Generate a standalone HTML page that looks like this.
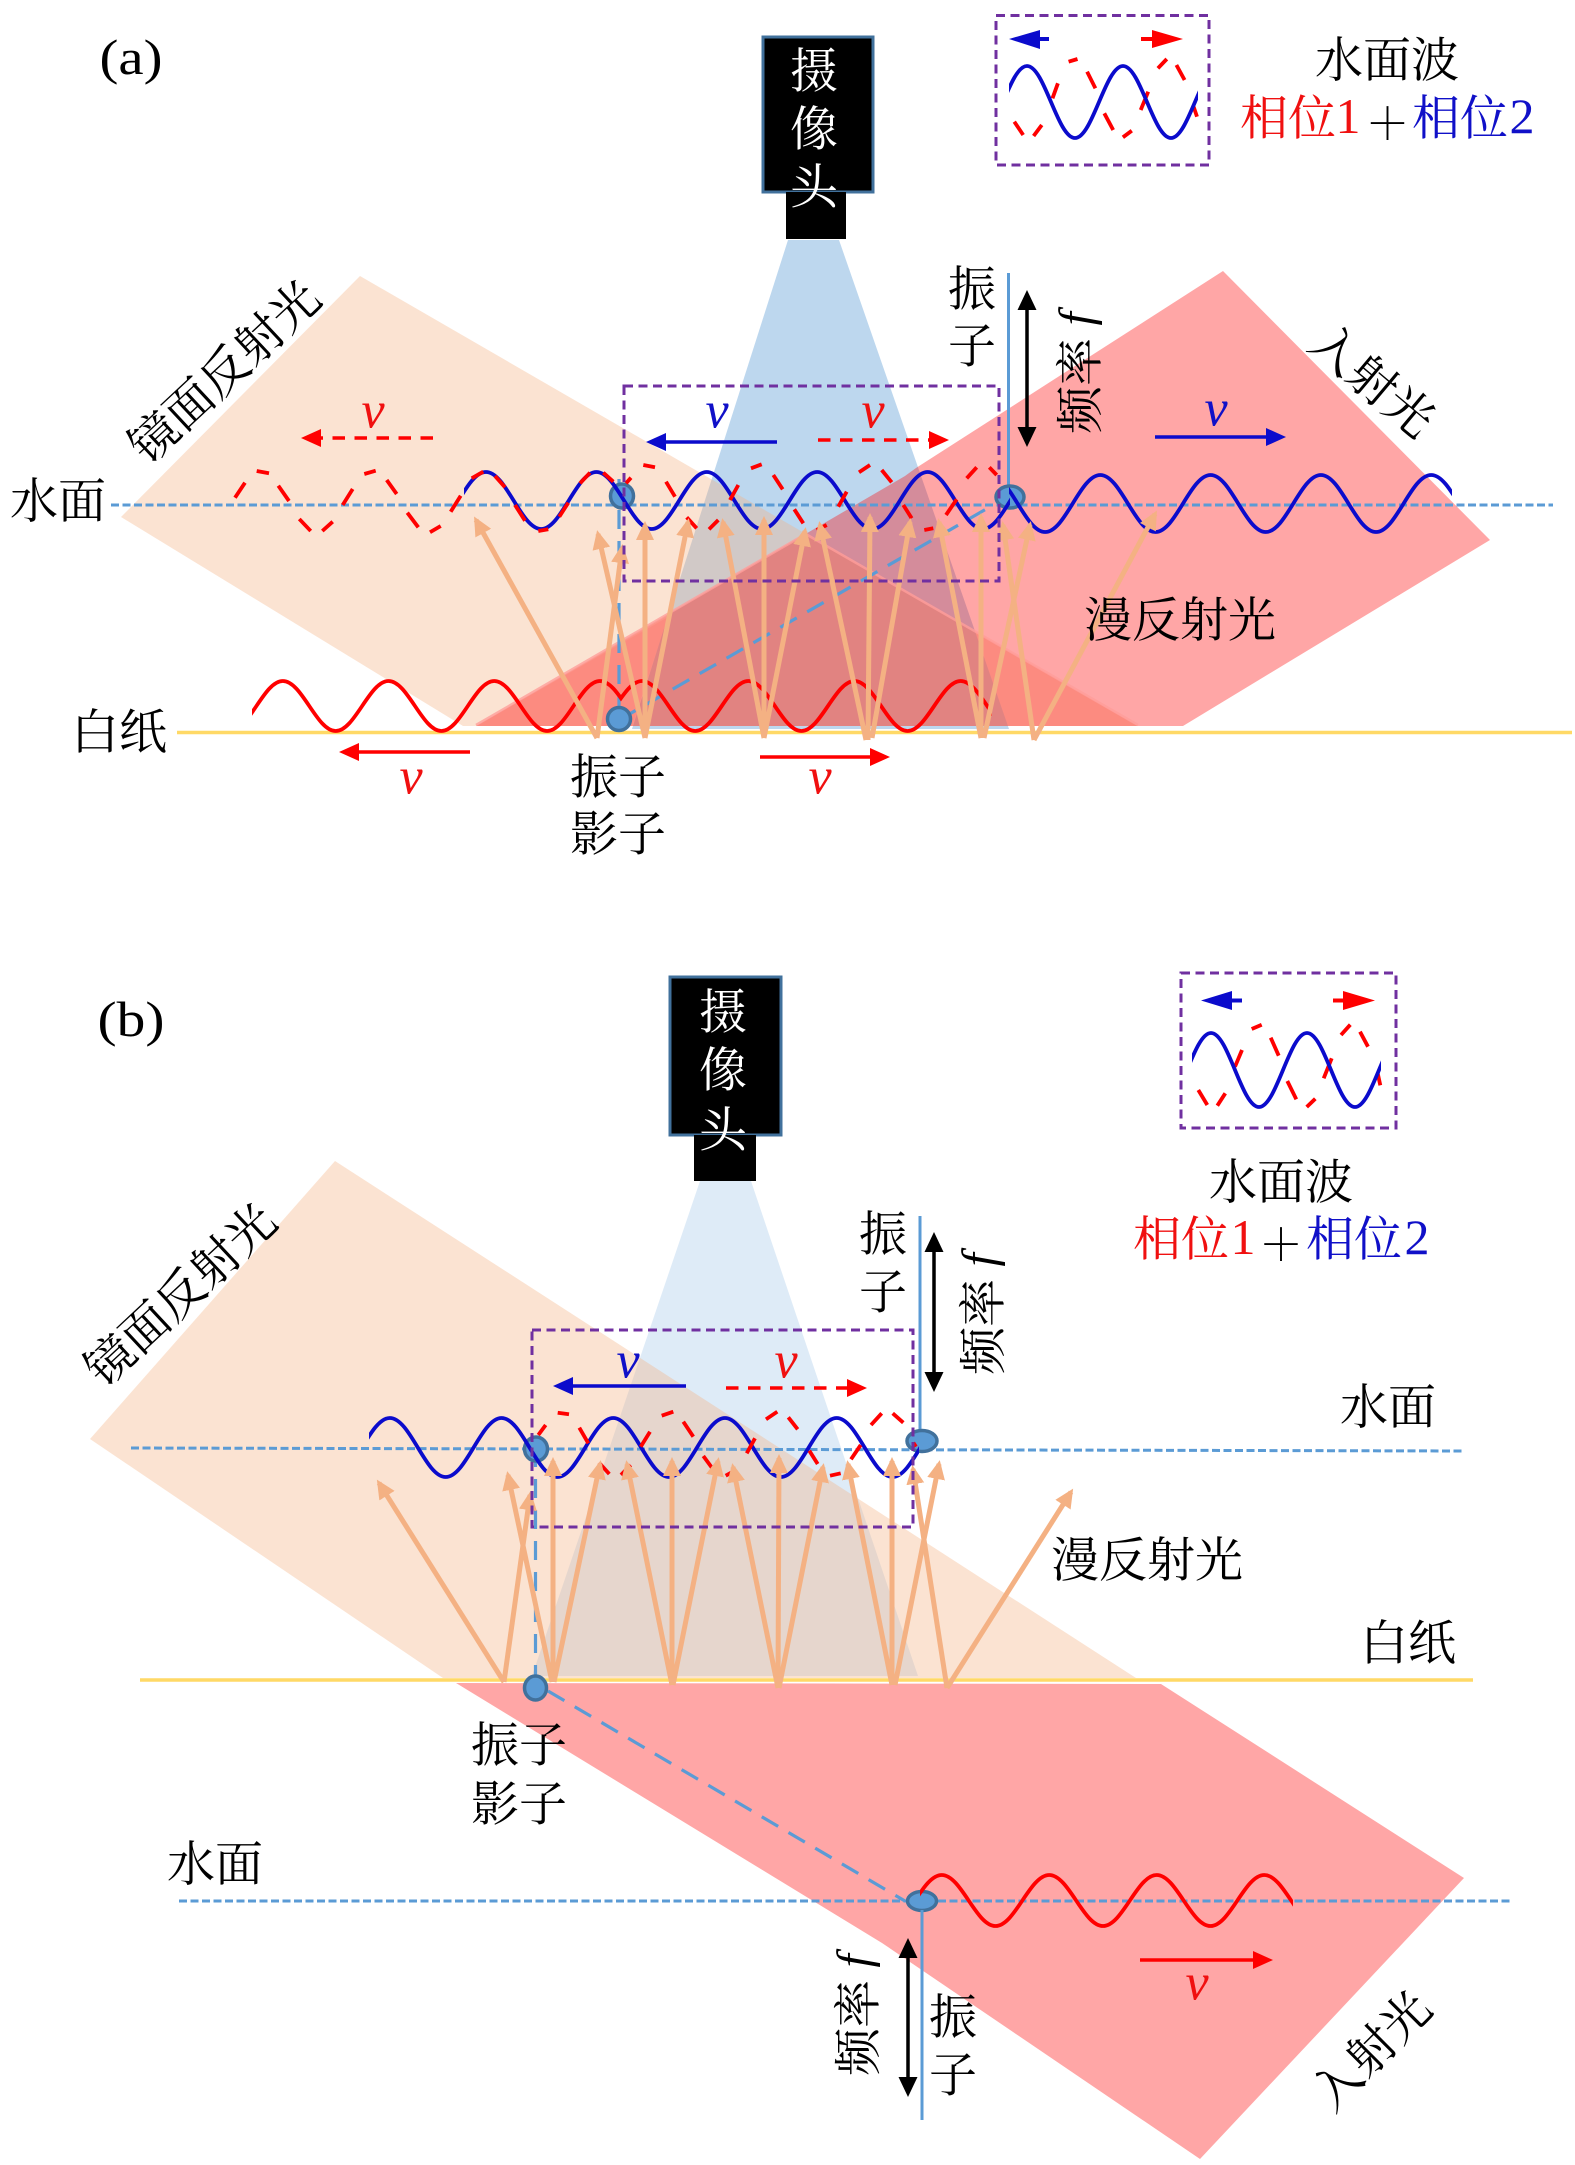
<!DOCTYPE html>
<html><head><meta charset="utf-8">
<style>
html,body{margin:0;padding:0;background:#fff}
svg{display:block}
text{font-family:"Noto Serif CJK SC","Liberation Serif",serif;font-size:48px;fill:#000;dominant-baseline:central;text-anchor:middle}
.lat{font-family:"Liberation Serif","Noto Serif CJK SC",serif}
.d{font-family:"Liberation Serif",serif;font-size:50px}
.v{font-family:"Liberation Serif",serif;font-style:italic;font-size:52px}
.w{fill:#fff}.r{fill:#f01010}.b{fill:#1010c8}
.pa{stroke:#F4B183;stroke-width:5;fill:none;marker-end:url(#mp)}
.wv{fill:none;stroke-width:3.8}
.rd{fill:none;stroke:#f00;stroke-width:3.8}
.dl{stroke:#5B9BD5;stroke-width:3.2;stroke-dasharray:19 12;fill:none}
.wl{stroke:#5B9BD5;stroke-width:3;stroke-dasharray:8 3.5;fill:none}
.pp{stroke:#FFD966;stroke-width:3.5}
.box{fill:none;stroke:#7030A0;stroke-width:3;stroke-dasharray:9 5.5}
.el{fill:#5B9BD5;stroke:#41719C;stroke-width:3.5}
</style></head><body>
<svg width="1575" height="2165" viewBox="0 0 1575 2165" xmlns="http://www.w3.org/2000/svg">
<defs>
<marker id="mp" markerUnits="userSpaceOnUse" markerWidth="20" markerHeight="20" refX="15" refY="9" orient="auto"><path d="M0 0L19 9L0 18z" fill="#F4B183"/></marker>
<marker id="mr" markerUnits="userSpaceOnUse" markerWidth="22" markerHeight="20" refX="15" refY="9" orient="auto"><path d="M0 0L20 9L0 18z" fill="#f00"/></marker>
<marker id="mb" markerUnits="userSpaceOnUse" markerWidth="22" markerHeight="20" refX="15" refY="9" orient="auto"><path d="M0 0L20 9L0 18z" fill="#0b0bcc"/></marker>
<marker id="mk" markerUnits="userSpaceOnUse" markerWidth="22" markerHeight="22" refX="15" refY="9.5" orient="auto"><path d="M0 0L20 9.5L0 19z" fill="#000"/></marker>
<marker id="mks" markerUnits="userSpaceOnUse" markerWidth="22" markerHeight="22" refX="5" refY="9.5" orient="auto"><path d="M20 0L0 9.5L20 19z" fill="#000"/></marker>
<clipPath id="c1"><rect x="464" y="440" width="546" height="120"/></clipPath>
<clipPath id="c2"><rect x="1009" y="440" width="443" height="120"/></clipPath>
<clipPath id="c5"><rect x="252" y="660" width="369" height="90"/></clipPath>
<clipPath id="c6"><rect x="621" y="660" width="371" height="90"/></clipPath>
<clipPath id="c7"><rect x="1009" y="50" width="189" height="100"/></clipPath>
<clipPath id="c8"><rect x="1192" y="1010" width="189" height="110"/></clipPath>
<clipPath id="c9"><rect x="369" y="1400" width="550" height="90"/></clipPath>
<clipPath id="c11"><rect x="920" y="1860" width="373" height="75"/></clipPath>
</defs>

<!-- PANEL A -->
<polygon points="788,240 839,240 1009,729 632,729" fill="#5B9BD5" opacity=".4"/>
<polygon points="360,276 1138,726 463,726 121,517" fill="#F4B183" opacity=".36"/>
<polygon points="1223,271 1490,540 1183,726 476,726 905,476 916,468" fill="#FF0000" opacity=".35"/>
<polygon points="476,726 668,617 632,726" fill="#FF0000" opacity=".06"/>
<polygon points="975,631 1138,726 1008,726" fill="#FF0000" opacity=".06"/>
<polyline points="476,725 805.7,534 1138,725" fill="none" stroke="#FF9E9A" stroke-width="2.5" opacity=".8"/>
<line x1="177" y1="732.5" x2="1572" y2="732.5" class="pp"/>
<line x1="111" y1="505" x2="1553" y2="505" class="wl"/>
<line x1="619" y1="479" x2="619" y2="720" class="dl"/>
<line x1="619" y1="720" x2="988" y2="508" class="dl"/>

<rect x="763" y="37" width="110" height="155" fill="#000" stroke="#41719C" stroke-width="3"/>
<rect x="786" y="192" width="60" height="47" fill="#000"/>
<text x="814" y="67" class="w">摄</text><text x="814" y="125" class="w">像</text><text x="814" y="183" class="w">头</text>

<line x1="1008.5" y1="273" x2="1008.5" y2="494" stroke="#5B9BD5" stroke-width="3"/>
<line x1="1027" y1="295" x2="1027" y2="442" stroke="#000" stroke-width="3.5" marker-end="url(#mk)" marker-start="url(#mks)"/>

<ellipse cx="622" cy="496" rx="11.5" ry="12" class="el"/>
<ellipse cx="1010" cy="497" rx="14" ry="11" class="el"/>
<ellipse cx="619" cy="719" rx="11.5" ry="11.5" class="el"/>

<!-- waves a -->
<path clip-path="url(#c1)" class="wv" stroke="#0b0bcc" d="M430.8 529c20.1 0 35.1-57 55.2-57s35.1 57 55.2 57s35.1-57 55.2-57s35.1 57 55.2 57s35.1-57 55.2-57s35.1 57 55.2 57s35.1-57 55.2-57s35.1 57 55.2 57s35.1-57 55.2-57s35.1 57 55.2 57s35.1-57 55.2-57"/>
<path clip-path="url(#c2)" class="wv" stroke="#0b0bcc" d="M990 475c20.1 0 35 57 55.15 57s35-57 55.15-57s35 57 55.15 57s35-57 55.15-57s35 57 55.15 57s35-57 55.15-57s35 57 55.15 57s35-57 55.15-57s35 57 55.15 57"/>
<path class="rd" d="M235 497.7L245 482.7M256.7 471L269 473.3M278.3 485.7L289 501M299.3 519L310.7 531M322.3 531L332.7 521.7M342.7 505L352.7 489M364.3 474L375.7 470.7M386.7 480L396.7 494M407.3 512.7L418.3 527.3M430 532.3L440.7 526M450.7 511.7L460.7 495.7M471.7 478.3L483.3 471.7M495 476L505 487.3M515 505L525 520.7M538.3 531L548.3 529.3M559.3 516.7L568.3 502.7M580 483.3L590 472.7M603.3 472.7L613.3 481.7"/>
<path class="rd" d="M626 483.3L631 477.7M643.3 465L655 467.3M666 481.7L675 496.7M686.7 517.3L696.7 528.3M709 529.3L718.3 520M730 500L738.3 485M751 468.3L761.7 464.3M773.3 475L782.7 489.3M794.3 509.3L803.3 523.3M816.7 530L826.7 525M838.3 506.7L846.7 491.7M859 472.3L870 465M881.7 470L891.7 482.3M903.3 505L911.7 518.3M924.3 530L933.3 528.3M946 515L956.7 499.3M966.7 478.3L976.7 467.3M989.3 467.3L996.7 475"/>
<path clip-path="url(#c5)" class="wv" stroke="#f00" d="M230 731c19.25 0 33.6-50 52.85-50s33.6 50 52.85 50s33.6-50 52.85-50s33.6 50 52.85 50s33.6-50 52.85-50s33.6 50 52.85 50s33.6-50 52.85-50s33.6 50 52.85 50"/>
<path clip-path="url(#c6)" class="wv" stroke="#f00" d="M589 731c19.3 0 33.8-50 53.1-50s33.8 50 53.1 50s33.8-50 53.1-50s33.8 50 53.1 50s33.8-50 53.1-50s33.8 50 53.1 50s33.8-50 53.1-50s33.8 50 53.1 50"/>

<!-- diffuse arrows a -->
<path class="pa" d="M597 738L476 520"/><path class="pa" d="M645 738L598 534"/><path class="pa" d="M597 738L622 548"/>
<path class="pa" d="M645 738L645 525"/><path class="pa" d="M645 738L688 522"/>
<path class="pa" d="M764 738L723 522"/><path class="pa" d="M764 738L764 520"/><path class="pa" d="M764 738L805 531"/>
<path class="pa" d="M866 740L820 525"/><path class="pa" d="M868 740L870 517"/><path class="pa" d="M872 738L910 522"/>
<path class="pa" d="M981 738L939 522"/><path class="pa" d="M981 738L981 517"/><path class="pa" d="M984 738L1030 525"/>
<path class="pa" d="M1034 740L1003 525"/><path class="pa" d="M1034 740L1155 514"/>

<rect x="624" y="386" width="375" height="195" class="box"/>

<!-- small arrows a -->
<line x1="433" y1="438" x2="306" y2="438" stroke="#f00" stroke-width="3.5" stroke-dasharray="12.5 9.5" marker-end="url(#mr)"/>
<line x1="777" y1="442" x2="651" y2="442" stroke="#0b0bcc" stroke-width="3.5" marker-end="url(#mb)"/>
<line x1="818" y1="440" x2="944" y2="440" stroke="#f00" stroke-width="3.5" stroke-dasharray="12.5 9.5" marker-end="url(#mr)"/>
<line x1="1155" y1="437" x2="1281" y2="437" stroke="#0b0bcc" stroke-width="3.5" marker-end="url(#mb)"/>
<line x1="470" y1="752" x2="344" y2="752" stroke="#f00" stroke-width="3.5" marker-end="url(#mr)"/>
<line x1="760" y1="757" x2="885" y2="757" stroke="#f00" stroke-width="3.5" marker-end="url(#mr)"/>
<text x="373" y="411" class="v r">v</text><text x="717" y="411" class="v b">v</text><text x="873" y="411" class="v r">v</text>
<text x="1216" y="409" class="v b">v</text><text x="411" y="777" class="v r">v</text><text x="820" y="777" class="v r">v</text>

<!-- labels a -->
<text x="131" y="57" class="lat" textLength="63" lengthAdjust="spacingAndGlyphs" style="font-size:50px">(a)</text>
<text x="58" y="497">水面</text>
<text x="119" y="728">白纸</text>
<text x="222" y="369" transform="rotate(-43 222 369)" style="font-size:48px">镜面反射光</text>
<text x="1375" y="378" transform="rotate(40 1375 378)" style="font-size:48px">入射光</text>
<text x="1076" y="373" transform="rotate(-90 1076 373)">频率 <tspan class="lat" font-style="italic">f</tspan></text>
<text x="972" y="285">振</text><text x="972" y="342">子</text>
<text x="618" y="773">振子</text><text x="618" y="830">影子</text>
<text x="1180" y="616">漫反射光</text>

<!-- legend a -->
<rect x="996" y="15.5" width="213" height="149.5" class="box"/>
<line x1="1049" y1="39" x2="1030" y2="39" stroke="#0b0bcc" stroke-width="4"/><polygon points="1009,39 1040,30 1040,49" fill="#0b0bcc"/>
<line x1="1141" y1="39" x2="1160" y2="39" stroke="#f00" stroke-width="4"/><polygon points="1183,39 1152,30 1152,48" fill="#f00"/>
<path class="rd" d="M1014.3 121.7L1023.2 135M1033.6 136L1041.8 125M1052.5 98.3L1057.9 83.3M1068.6 61.7L1077.5 59M1087.1 71.7L1095.4 88.3M1104.3 113.3L1113.2 130M1122.9 137.3L1131.8 130.7M1140.7 110L1148.2 91.7M1157.9 68.3L1166.8 59M1176.4 65L1184.6 80M1193.6 106.7L1197 116.7"/>
<path clip-path="url(#c7)" class="wv" stroke="#0b0bcc" d="M979 138c17.5 0 30.5-72 48-72s30.5 72 48 72s30.5-72 48-72s30.5 72 48 72s30.5-72 48-72"/>
<text x="1387" y="56">水面波</text>
<text x="1288" y="114" class="r">相位</text><text x="1348" y="116" class="d r">1</text>
<text x="1387.5" y="120" style="font-size:44px">＋</text>
<text x="1460" y="114" class="b">相位</text><text x="1522" y="116" class="d b">2</text>

<!-- PANEL B -->
<polygon points="700,1181 751,1181 918,1676 532,1676" fill="#5B9BD5" opacity=".2"/>
<polygon points="335,1161 1136,1678 443,1678 90,1439" fill="#F4B183" opacity=".36"/>
<polygon points="456,1683 1161,1684 1464,1878 1200,2159 882,1943" fill="#FF0000" opacity=".35"/>
<line x1="140" y1="1680" x2="1473" y2="1680" class="pp"/>
<line x1="131" y1="1448" x2="1463" y2="1451" class="wl"/>
<line x1="179" y1="1901" x2="1512" y2="1901" class="wl"/>
<line x1="535.5" y1="1448" x2="535.5" y2="1688" class="dl"/>
<line x1="548" y1="1691" x2="905" y2="1901" class="dl"/>

<rect x="670" y="977" width="111" height="158" fill="#000" stroke="#41719C" stroke-width="3"/>
<rect x="694" y="1135" width="62" height="46" fill="#000"/>
<text x="723" y="1008" class="w">摄</text><text x="723" y="1066" class="w">像</text><text x="723" y="1126" class="w">头</text>

<line x1="920" y1="1216" x2="920" y2="1441" stroke="#5B9BD5" stroke-width="3"/>
<line x1="934" y1="1237" x2="934" y2="1387" stroke="#000" stroke-width="3.5" marker-end="url(#mk)" marker-start="url(#mks)"/>

<ellipse cx="536" cy="1449" rx="11.5" ry="12" class="el"/>
<ellipse cx="922" cy="1441" rx="15" ry="10.5" class="el"/>
<ellipse cx="535.5" cy="1688" rx="11" ry="12" class="el"/>
<ellipse cx="922" cy="1901" rx="14.5" ry="9.5" class="el"/>

<path clip-path="url(#c9)" class="wv" stroke="#0b0bcc" d="M334 1477c20.3 0 35.5-59 55.85-59s35.5 59 55.85 59s35.5-59 55.85-59s35.5 59 55.85 59s35.5-59 55.85-59s35.5 59 55.85 59s35.5-59 55.85-59s35.5 59 55.85 59s35.5-59 55.85-59s35.5 59 55.85 59s35.5-59 55.85-59"/>
<path class="rd" d="M538.3 1435L545.7 1425M557.7 1412.7L569 1414.3M579.3 1427.7L588.3 1443.3M599 1462.7L609.3 1474M621 1475L630.7 1465M640.7 1446.7L650 1431.7M661.7 1415.7L673.3 1411.7M683.3 1421.7L693.3 1436.7M703.3 1456L712.3 1468.3M725.7 1475.7L736 1470M746.7 1453.3L755 1438.3M766 1419.3L777.3 1411.7M788.3 1417.3L797.7 1429.3M809.3 1450.7L817.7 1464M830 1475.7L840.7 1473.3M851 1459.3L860.7 1445M871 1425L881.7 1413.3M892.7 1413.3L903.3 1422.7M913.3 1442.7L916 1446.7"/>
<path clip-path="url(#c11)" class="wv" stroke="#f00" d="M888 1926c19.6 0 34.2-51 53.75-51s34.2 51 53.75 51s34.2-51 53.75-51s34.2 51 53.75 51s34.2-51 53.75-51s34.2 51 53.75 51s34.2-51 53.75-51s34.2 51 53.75 51"/>

<path class="pa" d="M504 1682L379 1483"/><path class="pa" d="M504 1682L530 1495"/><path class="pa" d="M552 1682L508 1475"/>
<path class="pa" d="M553 1682L553 1461"/><path class="pa" d="M554 1682L600 1464"/>
<path class="pa" d="M672 1685L627 1464"/><path class="pa" d="M672 1685L672 1461"/><path class="pa" d="M673 1685L718 1461"/>
<path class="pa" d="M778 1688L733 1467"/><path class="pa" d="M778 1688L779 1458"/><path class="pa" d="M779 1688L823 1467"/>
<path class="pa" d="M892 1685L848 1464"/><path class="pa" d="M892 1685L892 1461"/><path class="pa" d="M895 1685L939 1464"/>
<path class="pa" d="M947 1688L913 1469"/><path class="pa" d="M947 1688L1071 1492"/>

<rect x="532" y="1330" width="381" height="197" class="box"/>

<line x1="922" y1="1910" x2="922" y2="2120" stroke="#5B9BD5" stroke-width="3"/>
<line x1="908" y1="1943" x2="908" y2="2092" stroke="#000" stroke-width="3.5" marker-end="url(#mk)" marker-start="url(#mks)"/>

<line x1="686" y1="1386" x2="558" y2="1386" stroke="#0b0bcc" stroke-width="3.5" marker-end="url(#mb)"/>
<line x1="726" y1="1388" x2="862" y2="1388" stroke="#f00" stroke-width="3.5" stroke-dasharray="12.5 9.5" marker-end="url(#mr)"/>
<line x1="1140" y1="1960" x2="1268" y2="1960" stroke="#f00" stroke-width="3.5" marker-end="url(#mr)"/>
<text x="628" y="1361" class="v b">v</text><text x="786" y="1361" class="v r">v</text><text x="1197" y="1983" class="v r">v</text>

<text x="131" y="1019" class="lat" textLength="67" lengthAdjust="spacingAndGlyphs" style="font-size:50px">(b)</text>
<text x="178" y="1292" transform="rotate(-43 178 1292)" style="font-size:48px">镜面反射光</text>
<text x="1369" y="2048" transform="rotate(-45 1369 2048)" style="font-size:48px">入射光</text>
<text x="979" y="1314" transform="rotate(-90 979 1314)">频率 <tspan class="lat" font-style="italic">f</tspan></text>
<text x="854" y="2015" transform="rotate(-90 854 2015)">频率 <tspan class="lat" font-style="italic">f</tspan></text>
<text x="883" y="1230">振</text><text x="883" y="1288">子</text>
<text x="953" y="2013">振</text><text x="953" y="2071">子</text>
<text x="519" y="1741">振子</text><text x="519" y="1800">影子</text>
<text x="1388" y="1403">水面</text>
<text x="1408" y="1639">白纸</text>
<text x="215" y="1860">水面</text>
<text x="1147" y="1556">漫反射光</text>

<rect x="1181" y="973" width="215" height="155" class="box"/>
<line x1="1242" y1="1000.5" x2="1222" y2="1000.5" stroke="#0b0bcc" stroke-width="4"/><polygon points="1201,1000.5 1232,991 1232,1010" fill="#0b0bcc"/>
<line x1="1333" y1="1000.5" x2="1350" y2="1000.5" stroke="#f00" stroke-width="4"/><polygon points="1375,1000.5 1343,991 1343,1010" fill="#f00"/>
<path class="rd" d="M1198.3 1090L1207.3 1105M1217.3 1105.7L1225.3 1093.3M1235 1066.7L1242 1050M1251.7 1029L1261.7 1024.7M1270.7 1037.7L1278.7 1055.7M1287.3 1081L1296.3 1099.3M1306.7 1107L1315.3 1098.7M1323.7 1078.3L1331.7 1058.3M1341 1035L1350.3 1024.7M1360 1031.7L1368 1046.7M1377.7 1073.3L1380.3 1085.3"/>
<path clip-path="url(#c8)" class="wv" stroke="#0b0bcc" d="M1163 1107c17.5 0 30.5-74 48-74s30.5 74 48 74s30.5-74 48-74s30.5 74 48 74s30.5-74 48-74"/>
<text x="1281" y="1178">水面波</text>
<text x="1181" y="1235" class="r">相位</text><text x="1243" y="1237" class="d r">1</text>
<text x="1281" y="1241" style="font-size:44px">＋</text>
<text x="1354" y="1235" class="b">相位</text><text x="1417" y="1237" class="d b">2</text>
</svg>
</body></html>
